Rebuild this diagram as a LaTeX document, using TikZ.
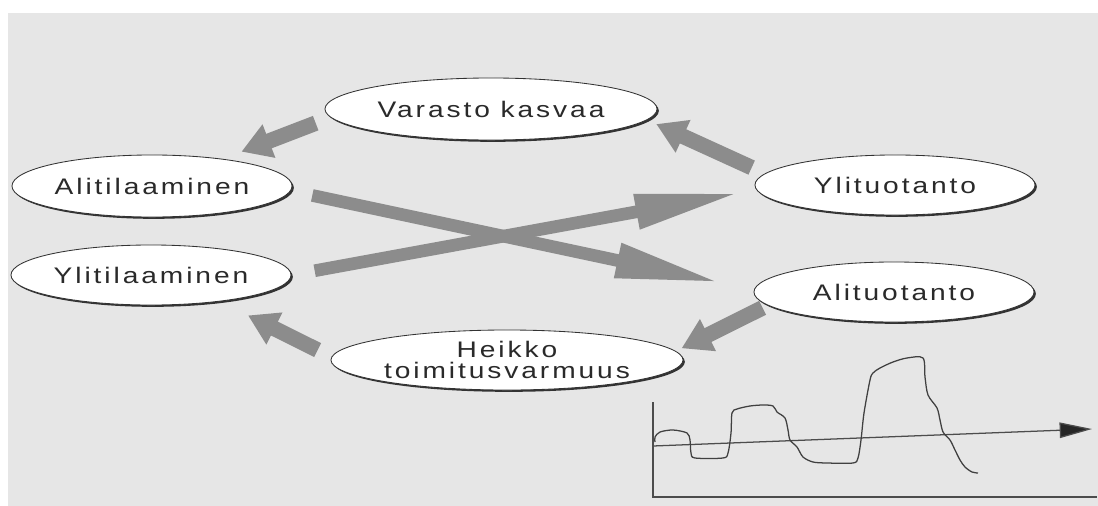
\documentclass[tikz,border=0pt]{standalone}
\usepackage{fontspec}
\setmainfont[FakeStretch=1.25,LetterSpace=13]{Liberation Sans}
\usetikzlibrary{arrows.meta,shapes.geometric,shadows}
\definecolor{paper}{HTML}{E6E6E6}
\definecolor{arrowgray}{HTML}{8C8C8C}
\definecolor{ink}{HTML}{2A2A2A}
\begin{document}
\begin{tikzpicture}[x=0.025cm,y=-0.025cm,
      bubble/.style={ellipse,draw=black!80,line width=0.6pt,fill=white,text=ink,
        minimum width=7cm,minimum height=1.5cm,inner sep=0pt,align=center,
        font=\fontsize{16pt}{15pt}\selectfont,
        drop shadow={shadow xshift=1.3pt,shadow yshift=-1.3pt,fill=black!80,opacity=1}},
      fat/.style={draw=arrowgray,line width=11pt,-{Triangle[length=21pt,width=24pt]}},
      long/.style={draw=arrowgray,line width=9pt,-{Triangle[length=75pt,width=23pt]}},
      axis/.style={draw=black!70,line width=0.9pt},
      wave/.style={draw=black!75,line width=0.9pt}]
      \useasboundingbox (0,0) rectangle (1098,506);
      \fill[paper] (8,13) rectangle (1098,506);
      % the loop
      \node[bubble,minimum width=8.3cm,minimum height=1.55cm] (vk) at (491,109) {Varasto kasvaa};
      \node[bubble,minimum height=1.55cm] (alitil) at (152,186) {Alitilaaminen};
      \node[bubble] (ylitil) at (151,275) {Ylitilaaminen};
      \node[bubble] (ylituo) at (895,185) {Ylituotanto};
      \node[bubble] (alituo) at (894,292) {Alituotanto};
      \node[bubble,minimum width=8.8cm] (heikko) at (507,360) {Heikko\\toimitusvarmuus};
      \draw[fat,shorten <=0.4cm,shorten >=0.5cm] (vk.183) -- (alitil.21);
      \draw[fat,shorten <=0.36cm,shorten >=0.25cm] (ylituo.175) -- (vk.356);
      \draw[fat,shorten <=0.14cm,shorten >=0.16cm] (alituo.186) -- (heikko.3);
      \draw[fat,shorten <=0.385cm,shorten >=0.78cm] (heikko.179) -- (ylitil.339);
      \draw[long,shorten <=0.55cm,shorten >=0.85cm] (alitil.358) -- (alituo.179);
      \draw[long,shorten <=0.59cm,shorten >=0.41cm] (ylitil.0) -- (ylituo.182);
      % small chart
      \coordinate (o) at (653,497);
      \draw[axis] (653,402) -- (o) -- (1097,497);
      \draw[axis,-{Triangle[length=23pt,width=11pt,fill=black!85]}] (653,446) -- (1092,429);
      \draw[wave] plot[smooth,tension=0.5] coordinates {(655,442) (655,437) (660,432) (673,430)
        (687,433) (690,440) (691,453) (695,458) (723,458) (728,453) (731,433) (732,413)
        (737,409) (750,406) (763,405) (773,406) (777,412) (785,418) (788,430) (790,440)
        (797,447) (803,457) (813,462) (827,463) (853,463) (858,458) (861,440) (864,413)
        (870,380) (873,373) (880,368) (893,362) (907,358) (923,358) (925,377) (928,395)
        (937,408) (940,420) (943,432) (950,440) (955,450) (960,460) (965,467) (972,472) (978,473)};
    \end{tikzpicture}
\end{document}
